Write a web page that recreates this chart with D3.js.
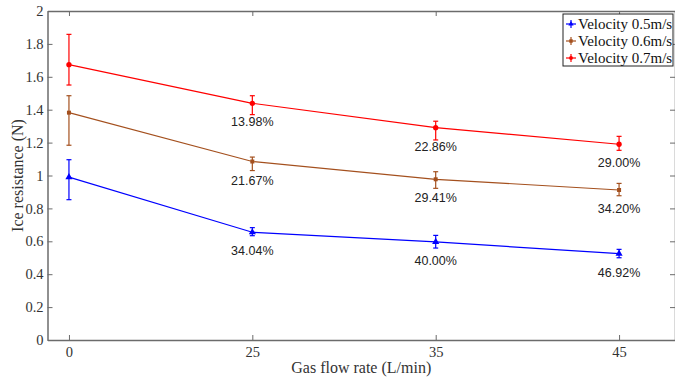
<!DOCTYPE html>
<html>
<head>
<meta charset="utf-8">
<script src="https://cdn.jsdelivr.net/npm/d3@7"></script>
<style>
  body { margin: 0; background: #fff; }
  svg { display: block; }
</style>
</head>
<body>
<div id="chart"></div>
<script>
// Data
const flowRates = ["0", "25", "35", "45"];
const yTicks = [0, 0.2, 0.4, 0.6, 0.8, 1, 1.2, 1.4, 1.6, 1.8, 2];

const v05 = [0.99, 0.655, 0.596, 0.525];
const v05Low = [0.853, 0.634, 0.559, 0.50];
const v05High = [1.096, 0.683, 0.636, 0.551];
const v05Pct = ["", "34.04%", "40.00%", "46.92%"];

const v06 = [1.382, 1.085, 0.977, 0.912];
const v06Low = [1.184, 1.03, 0.922, 0.877];
const v06High = [1.485, 1.112, 1.023, 0.952];
const v06Pct = ["", "21.67%", "29.41%", "34.20%"];

const v07 = [1.674, 1.439, 1.291, 1.19];
const v07Low = [1.55, 1.37, 1.216, 1.153];
const v07High = [1.858, 1.485, 1.33, 1.238];
const v07Pct = ["", "13.98%", "22.86%", "29.00%"];

const seriesNames = ["Velocity 0.5m/s", "Velocity 0.6m/s", "Velocity 0.7m/s"];

const series = [
  { name: seriesNames[0], color: "#0000ff", marker: "triangle", vals: v05, lo: v05Low, hi: v05High, pct: v05Pct },
  { name: seriesNames[1], color: "#a4501e", marker: "square", vals: v06, lo: v06Low, hi: v06High, pct: v06Pct },
  { name: seriesNames[2], color: "#ff0000", marker: "circle", vals: v07, lo: v07Low, hi: v07High, pct: v07Pct }
];

const width = 675, height = 384;
const mLeft = 47.5, mRight = 675, mTop = 11, mBottom = 340;
const axisColor = "#6b6b6b";
const serif = "'Liberation Serif', 'Times New Roman', serif";
const sans = "'Liberation Sans', Arial, sans-serif";

const svg = d3.select("#chart").append("svg")
  .attr("width", width)
  .attr("height", height);

// categorical positions, equal spacing
const x = d3.scaleLinear()
  .domain([-0.117, 3.305])
  .range([mLeft, mRight]);

const y = d3.scaleLinear()
  .domain([0, 2])
  .range([mBottom, mTop]);

const markerSym = {
  triangle: d3.symbolTriangle,
  square: d3.symbolSquare,
  circle: d3.symbolCircle
};

// axes box
svg.append("g")
  .attr("transform", `translate(0,${mBottom})`)
  .call(d3.axisBottom(x).tickValues(d3.range(flowRates.length)).tickFormat(i => flowRates[i]).tickSizeInner(-5).tickSizeOuter(0).tickPadding(7))
  .call(g => g.select(".domain").attr("stroke", axisColor).attr("stroke-width", 1.5))
  .call(g => g.selectAll(".tick line").attr("stroke", axisColor))
  .call(g => g.selectAll("text").attr("font-family", serif).attr("font-size", 14.5).attr("fill", "#333"));

svg.append("g")
  .attr("transform", `translate(0,${mTop})`)
  .call(d3.axisTop(x).tickValues(d3.range(flowRates.length)).tickFormat("").tickSizeInner(-5).tickSizeOuter(0))
  .call(g => g.select(".domain").attr("stroke", axisColor).attr("stroke-width", 1.5))
  .call(g => g.selectAll(".tick line").attr("stroke", axisColor));

svg.append("g")
  .attr("transform", `translate(${mLeft},0)`)
  .call(d3.axisLeft(y).tickValues(yTicks).tickFormat(d => d3.format("")(+d.toFixed(1))).tickSizeInner(-5).tickSizeOuter(0).tickPadding(4))
  .call(g => g.select(".domain").attr("stroke", axisColor).attr("stroke-width", 1.5))
  .call(g => g.selectAll(".tick line").attr("stroke", axisColor))
  .call(g => g.selectAll("text").attr("font-family", serif).attr("font-size", 14.5).attr("fill", "#333"));

svg.append("g")
  .attr("transform", `translate(${mRight},0)`)
  .call(d3.axisRight(y).tickValues(yTicks).tickFormat("").tickSizeInner(-5).tickSizeOuter(0))
  .call(g => g.select(".domain").attr("stroke", axisColor).attr("stroke-width", 1.5))
  .call(g => g.selectAll(".tick line").attr("stroke", axisColor));

// axis titles
svg.append("text")
  .attr("x", (mLeft + mRight) / 2)
  .attr("y", 373)
  .attr("text-anchor", "middle")
  .attr("font-family", serif)
  .attr("font-size", 16)
  .attr("fill", "#333")
  .text("Gas flow rate (L/min)");

svg.append("text")
  .attr("transform", `translate(23,${(mTop + mBottom) / 2}) rotate(-90)`)
  .attr("text-anchor", "middle")
  .attr("font-family", serif)
  .attr("font-size", 16)
  .attr("fill", "#333")
  .text("Ice resistance (N)");

// series
const line = d3.line().x((d, i) => x(i)).y(d => y(d));

series.forEach(s => {
  const g = svg.append("g");
  g.append("path")
    .datum(s.vals)
    .attr("fill", "none")
    .attr("stroke", s.color)
    .attr("stroke-width", 1.2)
    .attr("d", line);

  // error bars
  s.vals.forEach((v, i) => {
    const cx = x(i);
    g.append("line").attr("x1", cx).attr("x2", cx).attr("y1", y(s.lo[i])).attr("y2", y(s.hi[i]))
      .attr("stroke", s.color).attr("stroke-width", 1.2);
    [s.lo[i], s.hi[i]].forEach(e => {
      g.append("line").attr("x1", cx - 2.5).attr("x2", cx + 2.5).attr("y1", y(e)).attr("y2", y(e))
        .attr("stroke", s.color).attr("stroke-width", 1.2);
    });
  });

  g.selectAll(".mk")
    .data(s.vals)
    .join("path")
    .attr("transform", (d, i) => `translate(${x(i)},${y(d)})`)
    .attr("d", d3.symbol().type(markerSym[s.marker]).size(s.marker === "square" ? 16 : 22))
    .attr("fill", s.color);

  g.selectAll(".pct")
    .data(s.pct)
    .join("text")
    .attr("x", (d, i) => x(i))
    .attr("y", (d, i) => y(s.vals[i]) + 23)
    .attr("text-anchor", "middle")
    .attr("font-family", sans)
    .attr("font-size", 12.5)
    .attr("fill", "#222")
    .text(d => d);
});

// legend
const lg = svg.append("g");
lg.append("rect")
  .attr("x", 563).attr("y", 14).attr("width", 110).attr("height", 52)
  .attr("fill", "#fff").attr("stroke", "#222").attr("stroke-width", 1);

series.forEach((s, k) => {
  const ly = 24 + k * 17;
  lg.append("line").attr("x1", 566).attr("x2", 576).attr("y1", ly).attr("y2", ly)
    .attr("stroke", s.color).attr("stroke-width", 1.2);
  lg.append("line").attr("x1", 571).attr("x2", 571).attr("y1", ly - 4).attr("y2", ly + 4)
    .attr("stroke", s.color).attr("stroke-width", 1.2);
  lg.append("path")
    .attr("transform", `translate(571,${ly})`)
    .attr("d", d3.symbol().type(markerSym[s.marker]).size(12))
    .attr("fill", s.color);
  lg.append("text")
    .attr("x", 578).attr("y", ly + 5)
    .attr("font-family", serif)
    .attr("font-size", 15)
    .attr("fill", "#111")
    .text(s.name);
});
</script>
</body>
</html>
